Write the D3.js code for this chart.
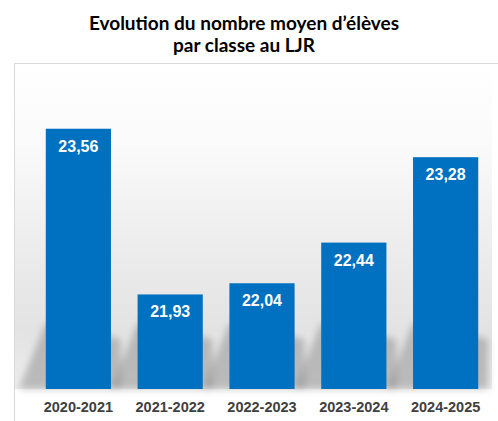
<!DOCTYPE html>
<html>
<head>
<meta charset="utf-8">
<script src="https://cdn.jsdelivr.net/npm/d3@7"></script>
<style>
	body { margin: 0; background: #fff; }
	svg { display: block; }
</style>
</head>
<body>
<svg id="chart"></svg>
<script>
const years = ['2020-2021', '2021-2022', '2022-2023', '2023-2024', '2024-2025'];
const moyennes = [23.56, 21.93, 22.04, 22.44, 23.28];
const titleLines = ['Evolution du nombre moyen d\u2019élèves', 'par classe au LJR'];

function makeChart() {
	let w = 498;
	let h = 421;
	let base = 389;

	let svg = d3.select('#chart')
		.attr('width', w)
		.attr('height', h);

	let defs = svg.append('defs');
	let grad = defs.append('linearGradient')
		.attr('id', 'bg')
		.attr('x1', 0).attr('y1', 0).attr('x2', 0).attr('y2', 1);
	grad.append('stop').attr('offset', '0%').attr('stop-color', '#ffffff');
	grad.append('stop').attr('offset', '25%').attr('stop-color', '#fafafa');
	grad.append('stop').attr('offset', '60%').attr('stop-color', '#ebebeb');
	grad.append('stop').attr('offset', '82%').attr('stop-color', '#e3e3e3');
	grad.append('stop').attr('offset', '100%').attr('stop-color', '#ededed');

	defs.append('filter')
		.attr('id', 'blur')
		.attr('x', '-50%').attr('y', '-50%').attr('width', '200%').attr('height', '200%')
		.append('feGaussianBlur')
		.attr('stdDeviation', 3.5);

	// frame + backdrop
	svg.append('rect')
		.attr('x', 14.5).attr('y', 63.5)
		.attr('width', w).attr('height', h)
		.attr('fill', '#fff')
		.attr('stroke', '#d9d9d9');
	svg.append('rect')
		.attr('x', 15).attr('y', 64)
		.attr('width', 477).attr('height', base - 64)
		.attr('fill', 'url(#bg)');

	let x = d3.scaleBand()
		.domain(years)
		.range([32, 492])
		.paddingInner(0.29)
		.paddingOuter(0.15);

	let y = d3.scaleLinear()
		.domain([21, 24])
		.range([base, base - 305]);

	// shadows behind the bars
	svg.append('g')
		.attr('filter', 'url(#blur)')
		.selectAll('path')
		.data(years)
		.enter()
		.append('path')
		.attr('d', d => {
			let x0 = x(d), x1 = x(d) + x.bandwidth();
			return `M${x0 - 27},${base} L${x0},${base - 66} L${x1 + 10},${base - 50} L${x1 + 10},${base} Z`;
		})
		.attr('fill', '#8a8a8a')
		.attr('opacity', 0.5);

	let bars = svg.append('g')
		.selectAll('g')
		.data(moyennes)
		.enter()
		.append('g');

	bars.append('rect')
		.attr('x', (d, i) => x(years[i]))
		.attr('y', d => y(d))
		.attr('width', x.bandwidth())
		.attr('height', d => base - y(d))
		.attr('fill', '#0070c0');

	bars.append('text')
		.attr('x', (d, i) => x(years[i]) + x.bandwidth() / 2)
		.attr('y', d => y(d) + 23)
		.attr('text-anchor', 'middle')
		.attr('fill', '#fff')
		.style('font', 'bold 16px "Liberation Sans", Arial, sans-serif')
		.text(d => d.toFixed(2).replace('.', ','));

	// category labels
	let axis = svg.append('g')
		.attr('transform', `translate(0,${base})`)
		.call(d3.axisBottom(x).tickSize(0).tickPadding(13));
	axis.select('.domain').remove();
	axis.selectAll('text')
		.attr('fill', '#404040')
		.style('font', 'bold 14.5px "Liberation Sans", Arial, sans-serif');

	svg.append('g')
		.selectAll('text')
		.data(titleLines)
		.enter()
		.append('text')
		.attr('x', 244)
		.attr('y', (d, i) => 30 + i * 22)
		.attr('text-anchor', 'middle')
		.attr('fill', '#000')
		.style('font', 'bold 19px Lato, "Open Sans", sans-serif')
		.text(d => d);
}

window.onload = function () {
	makeChart();
}
</script>
</body>
</html>
